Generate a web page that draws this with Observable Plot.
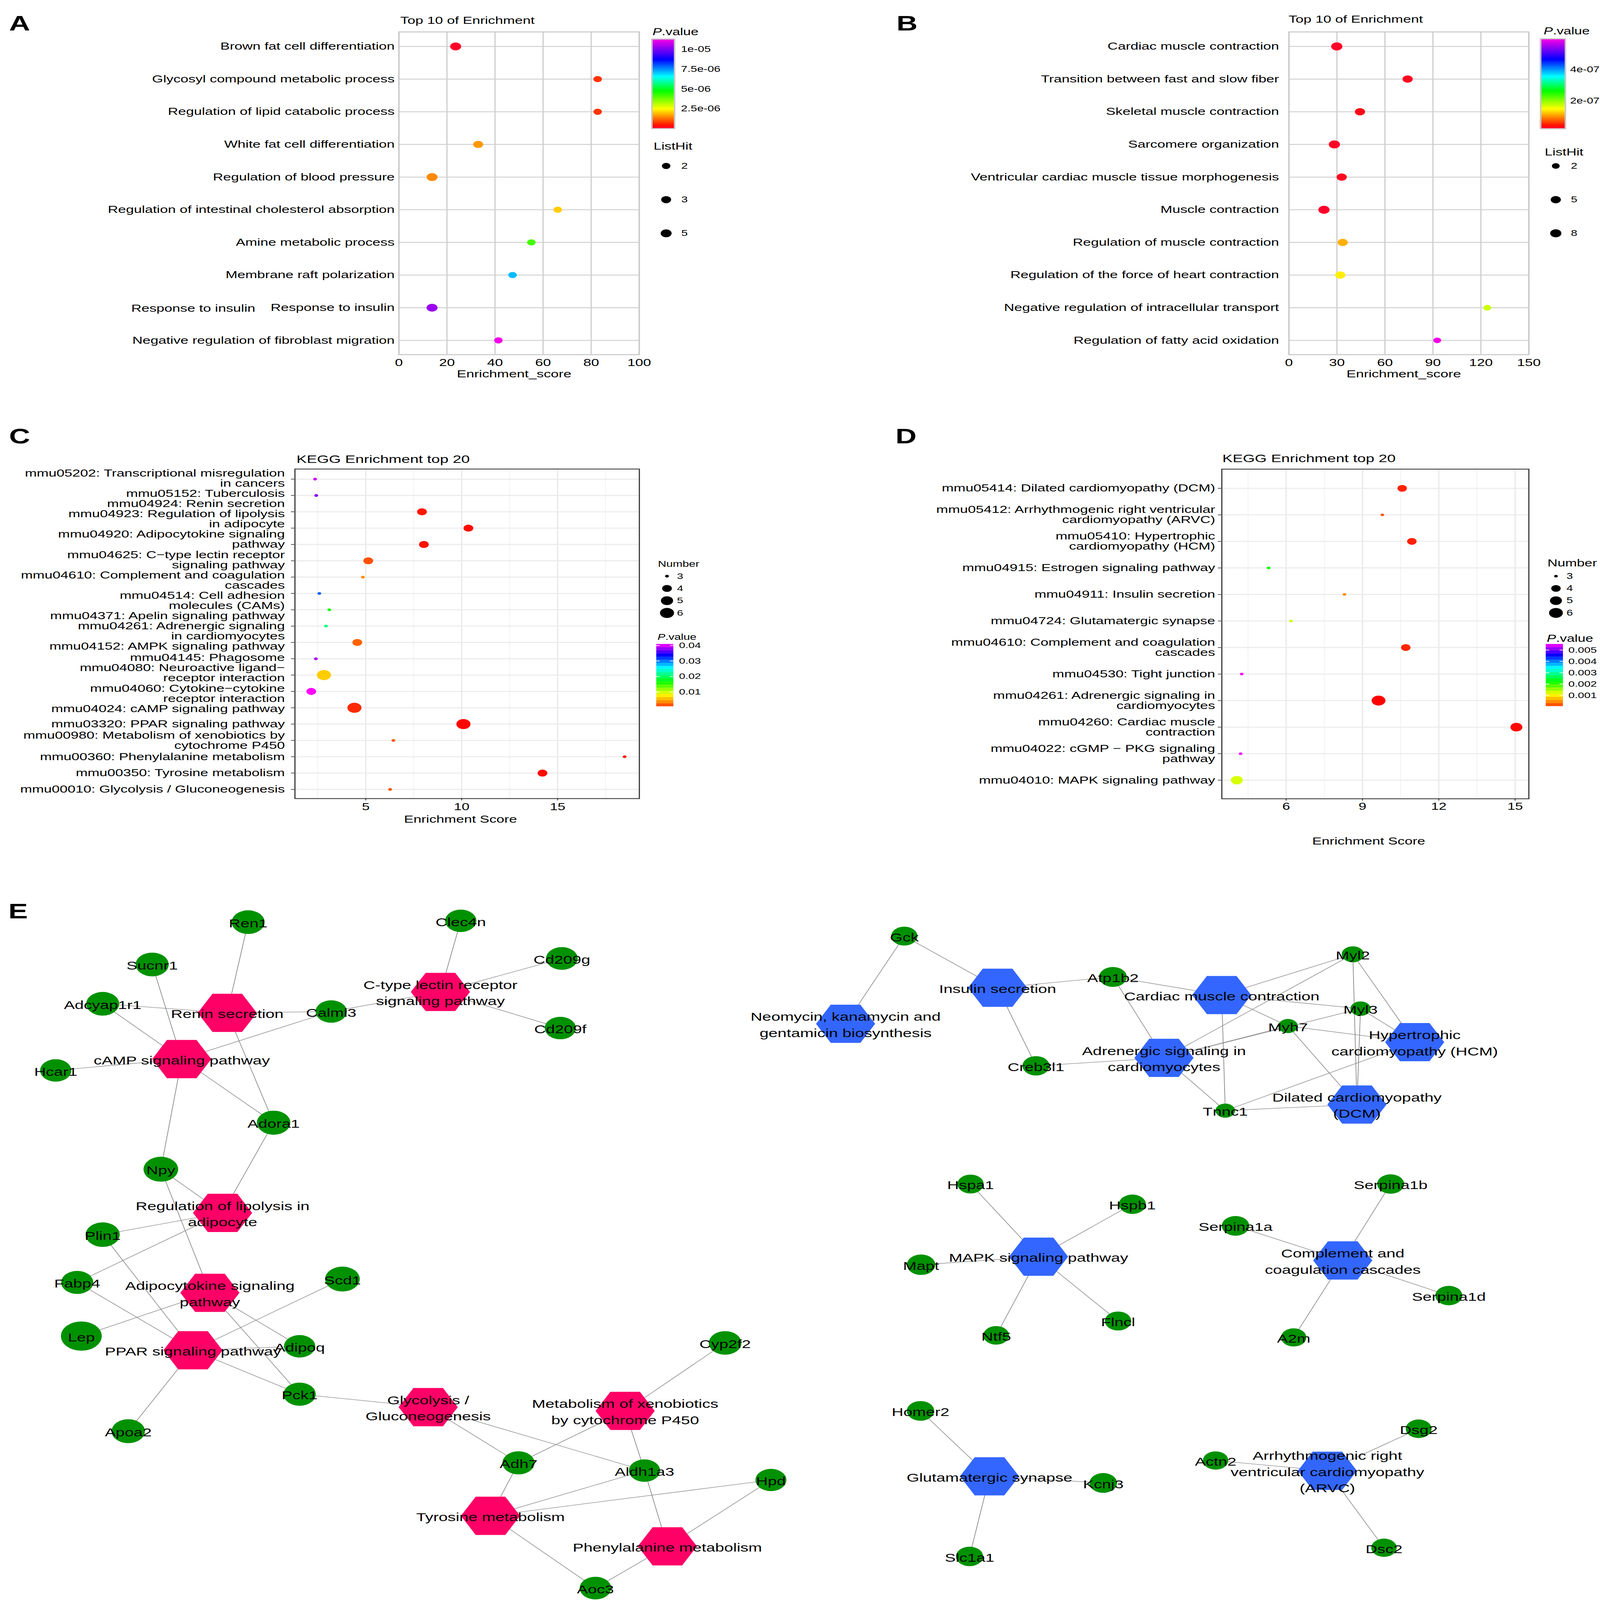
<!DOCTYPE html>
<html>
<head>
<meta charset="utf-8">
<script src="https://cdn.jsdelivr.net/npm/d3@7"></script>
<script src="https://cdn.jsdelivr.net/npm/@observablehq/plot@0.6"></script>
<style>
html, body { margin: 0; padding: 0; background: #ffffff; overflow: hidden; }
#fig { position: relative; background: #ffffff; overflow: hidden;
       font-family: 'Liberation Sans', Arial, Helvetica, sans-serif; }
#fig svg { position: absolute; overflow: visible; }
</style>
</head>
<body>
<div id="fig"></div>
<script>
// ---------------- DATA ----------------
// Panel A – GO top 10
const termsA = ["Brown fat cell differentiation","Glycosyl compound metabolic process","Regulation of lipid catabolic process","White fat cell differentiation","Regulation of blood pressure","Regulation of intestinal cholesterol absorption","Amine metabolic process","Membrane raft polarization","Response to insulin","Negative regulation of fibroblast migration"];
const scoreA = [23.6, 82.7, 82.7, 33.0, 13.8, 66.1, 55.1, 47.3, 13.8, 41.4];
const hitA   = [5, 2, 2, 3, 5, 2, 2, 2, 5, 2];
const pA     = [5.6e-8, 6.8e-7, 7.2e-7, 1.59e-6, 1.45e-6, 2.05e-6, 4.14e-6, 7.13e-6, 1.026e-5, 1.12e-5];

// Panel B – GO top 10
const termsB = ["Cardiac muscle contraction","Transition between fast and slow fiber","Skeletal muscle contraction","Sarcomere organization","Ventricular cardiac muscle tissue morphogenesis","Muscle contraction","Regulation of muscle contraction","Regulation of the force of heart contraction","Negative regulation of intracellular transport","Regulation of fatty acid oxidation"];
const scoreB = [29.9, 74.2, 44.4, 28.4, 33.0, 21.9, 33.6, 32.1, 124.0, 92.7];
const hitB   = [8, 5, 5, 8, 5, 8, 5, 5, 2, 2];
const pB     = [2.6e-8, 2.9e-8, 3.3e-8, 2.7e-8, 3.0e-8, 2.5e-8, 1.14e-7, 1.416e-7, 1.72e-7, 5.91e-7];

// Panel C – KEGG top 20
const termsC = ["mmu05202: Transcriptional misregulation\nin cancers","mmu05152: Tuberculosis","mmu04924: Renin secretion","mmu04923: Regulation of lipolysis\nin adipocyte","mmu04920: Adipocytokine signaling\npathway","mmu04625: C\u2212type lectin receptor\nsignaling pathway","mmu04610: Complement and coagulation\ncascades","mmu04514: Cell adhesion\nmolecules (CAMs)","mmu04371: Apelin signaling pathway","mmu04261: Adrenergic signaling\nin cardiomyocytes","mmu04152: AMPK signaling pathway","mmu04145: Phagosome","mmu04080: Neuroactive ligand\u2212\nreceptor interaction","mmu04060: Cytokine\u2212cytokine\nreceptor interaction","mmu04024: cAMP signaling pathway","mmu03320: PPAR signaling pathway","mmu00980: Metabolism of xenobiotics by\ncytochrome P450","mmu00360: Phenylalanine metabolism","mmu00350: Tyrosine metabolism","mmu00010: Glycolysis / Gluconeogenesis"];
const scoreC = [2.36, 2.42, 7.93, 10.35, 8.03, 5.13, 4.85, 2.58, 3.10, 2.93, 4.56, 2.40, 2.82, 2.16, 4.41, 10.09, 6.44, 18.49, 14.21, 6.27];
const numC   = [3, 3, 4, 4, 4, 4, 3, 3, 3, 3, 4, 3, 6, 4, 6, 6, 3, 3, 4, 3];
const pC     = [0.0392, 0.0373, 0.00065, 0.0005, 0.00058, 0.00139, 0.00336, 0.0302, 0.0165, 0.0212, 0.00167, 0.0384, 0.00598, 0.0406, 0.00091, 0.00044, 0.00151, 0.0007, 0.0005, 0.00145];

// Panel D – KEGG top 20
const termsD = ["mmu05414: Dilated cardiomyopathy (DCM)","mmu05412: Arrhythmogenic right ventricular\ncardiomyopathy (ARVC)","mmu05410: Hypertrophic\ncardiomyopathy (HCM)","mmu04915: Estrogen signaling pathway","mmu04911: Insulin secretion","mmu04724: Glutamatergic synapse","mmu04610: Complement and coagulation\ncascades","mmu04530: Tight junction","mmu04261: Adrenergic signaling in\ncardiomyocytes","mmu04260: Cardiac muscle\ncontraction","mmu04022: cGMP \u2212 PKG signaling\npathway","mmu04010: MAPK signaling pathway"];
const scoreD = [10.56, 9.78, 10.94, 5.31, 8.29, 6.19, 10.70, 4.25, 9.63, 15.05, 4.21, 4.06];
const numD   = [4, 3, 4, 3, 3, 3, 4, 3, 6, 5, 3, 5];
const pD     = [0.000058, 0.000146, 0.000055, 0.00226, 0.000385, 0.00128, 0.000064, 0.00545, 0.000003, 0.00001, 0.00544, 0.00122];

// tick labels
const xTicksA = [0, 20, 40, 60, 80, 100];
const xTicksB = [0, 30, 60, 90, 120, 150];
const xTicksC = [5, 10, 15];
const xTicksD = [6, 9, 12, 15];
const pTicksA = [2.5e-6, 5e-6, 7.5e-6, 1e-5];
const pTicksB = [2e-7, 4e-7];
const pTicksC = [0.01, 0.02, 0.03, 0.04];
const pTicksD = [0.001, 0.002, 0.003, 0.004, 0.005];
const keysA = [2, 3, 5];
const keysB = [2, 5, 8];
const keysC = [3, 4, 5, 6];
const keysD = [3, 4, 5, 6];

// Panel E – gene/pathway networks (layout coordinates, node weight)
const genesAdipose = [
 ["Ren1",174.0,903.0,23.2],["Clec4n",323.5,901.7,22.0],["Sucnr1",106.5,944.5,23.3],["Cd209g",394.6,938.6,22.3],
 ["Adcyap1r1",71.7,983.0,23.2],["Calml3",232.4,990.6,22.0],["Cd209f",393.5,1006.8,22.0],["Hcar1",38.7,1048.3,22.0],
 ["Adora1",191.9,1099.5,23.6],["Npy",112.6,1145.1,24.4],["Plin1",71.7,1209.2,24.0],["Fabp4",53.8,1256.0,22.6],
 ["Scd1",240.3,1252.7,24.4],["Lep",56.7,1308.6,28.7],["Adipoq",210.2,1318.6,22.0],["Apoa2",89.7,1401.8,23.5],
 ["Pck1",210.2,1365.5,22.7],["Cyp2f2",509.4,1315.3,23.0],["Adh7",364.1,1432.8,22.6],["Aldh1a3",452.7,1440.4,22.0],
 ["Hpd",541.6,1449.6,21.8],["Aoc3",418.2,1555.5,22.2]
];
const genesMuscle = [
 ["Gck",635.4,916.7,18.5],["Atp1b2",782.1,956.7,19.5],["Creb3l1",728.0,1043.8,19.0],["Myl2",950.8,934.5,15.7],
 ["Myl3",956.2,987.8,14.2],["Myh7",905.2,1004.8,13.8],["Tnnc1",861.1,1087.7,13.8],
 ["Hspa1",682.0,1159.6,18.5],["Hspb1",795.8,1179.4,19.0],["Mapt",647.2,1238.7,20.0],["Flncl",785.7,1293.8,18.6],["Ntf5",700.0,1307.9,18.2],
 ["Serpina1b",977.4,1159.6,19.0],["Serpina1a",868.3,1200.6,19.3],["Serpina1d",1018.3,1268.9,19.0],["A2m",909.2,1309.9,17.8],
 ["Homer2",646.8,1381.9,19.3],["Kcnj3",775.3,1452.5,19.4],["Slc1a1",681.3,1524.5,19.1],
 ["Dsg2",997.1,1399.4,18.2],["Actn2",854.3,1430.5,17.9],["Dsc2",972.7,1516.0,17.9]
];
const pathwaysAdipose = [
 ["renin","Renin secretion",159.3,991.9],
 ["ctype","C-type lectin receptor\nsignaling pathway",309.2,971.4],
 ["camp","cAMP signaling pathway",127.3,1037.2],
 ["lipo","Regulation of lipolysis in\nadipocyte",156.0,1187.9],
 ["adipo","Adipocytokine signaling\npathway",147.1,1266.2],
 ["ppar","PPAR signaling pathway",135.2,1322.5],
 ["glyco","Glycolysis /\nGluconeogenesis",300.6,1378.2],
 ["xeno","Metabolism of xenobiotics\nby cytochrome P450",439.1,1381.9],
 ["tyr","Tyrosine metabolism",344.4,1484.7],
 ["phe","Phenylalanine metabolism",468.8,1514.6]
];
const pathwaysMuscle = [
 ["neo","Neomycin, kanamycin and\ngentamicin biosynthesis",594.1,1002.6],
 ["ins","Insulin secretion",701.0,967.3],
 ["cmc","Cardiac muscle contraction",858.6,974.5],
 ["hcm","Hypertrophic\ncardiomyopathy (HCM)",994.3,1020.6],
 ["adr","Adrenergic signaling in\ncardiomyocytes",818.0,1036.0],
 ["dcm","Dilated cardiomyopathy\n(DCM)",953.7,1081.7],
 ["mapk","MAPK signaling pathway",729.8,1230.8],
 ["comp","Complement and\ncoagulation cascades",943.7,1234.5],
 ["glu","Glutamatergic synapse",695.3,1446.0],
 ["arvc","Arrhythmogenic right\nventricular cardiomyopathy\n(ARVC)",932.9,1440.6]
];
const edgesAdipose = [
 ["Ren1","renin"],["Adcyap1r1","renin"],["Calml3","renin"],["Adora1","renin"],
 ["Sucnr1","camp"],["Adcyap1r1","camp"],["Calml3","camp"],["Hcar1","camp"],["Adora1","camp"],["Npy","camp"],
 ["Calml3","ctype"],["Clec4n","ctype"],["Cd209g","ctype"],["Cd209f","ctype"],
 ["Adora1","lipo"],["Npy","lipo"],["Plin1","lipo"],["Fabp4","lipo"],
 ["Npy","adipo"],["Lep","adipo"],["Adipoq","adipo"],["Pck1","adipo"],
 ["Plin1","ppar"],["Fabp4","ppar"],["Scd1","ppar"],["Adipoq","ppar"],["Pck1","ppar"],["Apoa2","ppar"],
 ["Pck1","glyco"],["Adh7","glyco"],["Aldh1a3","glyco"],
 ["Cyp2f2","xeno"],["Adh7","xeno"],["Aldh1a3","xeno"],
 ["Adh7","tyr"],["Aldh1a3","tyr"],["Hpd","tyr"],["Aoc3","tyr"],
 ["Aldh1a3","phe"],["Hpd","phe"],["Aoc3","phe"]
];
const edgesMuscle = [
 ["Gck","neo"],["Gck","ins"],["Atp1b2","ins"],["Creb3l1","ins"],
 ["Atp1b2","cmc"],["Myl2","cmc"],["Myl3","cmc"],["Myh7","cmc"],["Tnnc1","cmc"],
 ["Atp1b2","adr"],["Creb3l1","adr"],["Myl2","adr"],["Myl3","adr"],["Myh7","adr"],["Tnnc1","adr"],
 ["Myl2","hcm"],["Myl3","hcm"],["Myh7","hcm"],["Tnnc1","hcm"],
 ["Myl2","dcm"],["Myl3","dcm"],["Myh7","dcm"],["Tnnc1","dcm"],
 ["Hspa1","mapk"],["Hspb1","mapk"],["Mapt","mapk"],["Flncl","mapk"],["Ntf5","mapk"],
 ["Serpina1b","comp"],["Serpina1a","comp"],["Serpina1d","comp"],["A2m","comp"],
 ["Homer2","glu"],["Kcnj3","glu"],["Slc1a1","glu"],
 ["Dsg2","arvc"],["Actn2","arvc"],["Dsc2","arvc"]
];

// ---------------- SCALES / STYLE ----------------
const UW = 1125.1, UH = 1567.7;  // drawing units of the whole figure
let SX = 5601 / UW, SY = 7804 / UH;
const FONT = "'Liberation Sans', Arial, Helvetica, sans-serif";
const fig = document.getElementById("fig");
function ramp(stops) {
  const s = d3.scaleLinear().domain(stops.map(d => d[0])).range(stops.map(d => d[1]))
    .interpolate(d3.interpolateRgb).clamp(true);
  return t => s(t);
}
const rampAB = ramp([[0,"#ff0030"],[0.035,"#ff1000"],[0.22,"#ffff00"],[0.42,"#00ff00"],[0.58,"#00ffff"],[0.77,"#0000ff"],[1,"#ff00e6"]]);
const rampCD = ramp([[0,"#ff0000"],[0.03,"#ff6000"],[0.19,"#ffff00"],[0.40,"#00ff00"],[0.62,"#00ffff"],[0.82,"#0000ff"],[1,"#ff00ff"]]);
const colorA = {type: "linear", domain: [0, 1.13e-5], interpolate: rampAB};
const colorB = {type: "linear", domain: [2.28e-8, 5.97e-7], interpolate: rampAB};
const colorC = {type: "linear", domain: [0.00038, 0.04066], interpolate: rampCD};
const colorD = {type: "linear", domain: [0, 0.0055], interpolate: rampCD};
const rA = {type: "sqrt", domain: [0, 3], range: [3.0, 3.85]};
const rB = {type: "sqrt", domain: [0, 6], range: [2.75, 3.93]};
const rC = {type: "sqrt", domain: [0, 3], range: [1.35, 4.95]};
const rD = {type: "sqrt", domain: [0, 3], range: [1.25, 4.85]};
const sci = v => { const [m, e] = v.toExponential().split("e"); const n = +e; return m + "e" + (n < 0 ? "-" : "+") + String(Math.abs(n)).padStart(2, "0"); };

function baseStyle() {
  return {background: "none", overflow: "visible", fontFamily: FONT, fontSize: "10px", color: "black", maxWidth: "none"};
}
function place(svg, left, top) {
  const w = +svg.getAttribute("width"), h = +svg.getAttribute("height");
  svg.setAttribute("preserveAspectRatio", "none");
  svg.setAttribute("width", w * SX);
  svg.setAttribute("height", h * SY);
  svg.style.position = "absolute";
  svg.style.left = (left * SX) + "px";
  svg.style.top = (top * SY) + "px";
  svg.style.width = (w * SX) + "px";
  svg.style.height = (h * SY) + "px";
  svg.style.overflow = "visible";
  svg.style.background = "none";
  svg.style.maxWidth = "none";
  fig.appendChild(svg);
}
function texter(L, T, ml, mt) {
  return (s, x, y, o = {}) => Plot.text([s], {text: d => d, frameAnchor: "top-left", dx: x - L - ml, dy: y - T - mt,
    lineAnchor: "middle", textAnchor: "start", fill: "black", fontSize: 10, ...o});
}
// pack multi-line tick labels so that their lines do not collide
function dodgeLabels(terms, yScale, lh) {
  const items = terms.map(t => ({t, c: yScale.apply(t), h: t.split("\n").length * lh}));
  const clusters = [];
  for (const it of items) {
    clusters.push({items: [it], h: it.h, sum: it.c - it.h / 2, n: 1});
    while (clusters.length > 1) {
      const b = clusters[clusters.length - 1], a = clusters[clusters.length - 2];
      if (a.sum / a.n + a.h > b.sum / b.n) {
        a.sum += b.sum - b.n * a.h; a.n += b.n; a.items.push(...b.items); a.h += b.h; clusters.pop();
      } else break;
    }
  }
  for (const cl of clusters) {
    let top = cl.sum / cl.n;
    for (const it of cl.items) { it.dy = top + it.h / 2 - it.c; top += it.h; }
  }
  return items;
}

// ---------------- DOT PANELS ----------------
function dotPanel(o) {
  const data = o.terms.map((t, i) => ({term: t, x: o.score[i], n: o.size[i], p: o.p[i]}));
  const T = texter(o.L, o.T, o.ml, o.mt);
  const bw = o.theme === "bw";
  const tick = bw ? 2.3 : 0;
  const yOpts = {type: "point", domain: o.terms, padding: o.yPadding};
  const marks = [];
  if (bw) {
    marks.push(Plot.gridX(o.minor, {stroke: "#f2f2f2", strokeOpacity: 1, strokeWidth: 0.55}));
    marks.push(Plot.gridX(o.xTicks, {stroke: "#ebebeb", strokeOpacity: 1, strokeWidth: 1}));
    marks.push(Plot.gridY({stroke: "#ebebeb", strokeOpacity: 1, strokeWidth: 1}));
  } else {
    marks.push(Plot.gridX(o.grid, {stroke: "#d0d0d0", strokeOpacity: 1, strokeWidth: 0.9}));
    marks.push(Plot.gridY({stroke: "#d0d0d0", strokeOpacity: 1, strokeWidth: 0.9}));
  }
  marks.push(Plot.dot(data, {x: "x", y: "term", r: d => d.n - o.nMin + 1e-9, fill: "p"}));
  marks.push(Plot.frame({stroke: bw ? "#333333" : "#c8c8c8", strokeWidth: bw ? 0.8 : 1}));
  marks.push(Plot.axisX({ticks: o.xTicks, tickSize: tick, tickPadding: o.xPad, fontSize: o.xFont,
    stroke: "#333333", strokeWidth: 0.6, fill: "black", label: null}));
  if (o.dodge) {
    const yScale = Plot.scale({y: {...yOpts, range: [o.mt, o.H - o.mb]}});
    marks.push(Plot.axisY({tickSize: tick, tickFormat: () => "", stroke: "#333333", strokeWidth: 0.6, label: null}));
    for (const it of dodgeLabels(o.terms, yScale, 10)) {
      marks.push(Plot.text([it.t], {y: d => d, text: d => d, frameAnchor: "left", dx: -(tick + o.yPad), dy: it.dy,
        textAnchor: "end", lineAnchor: "middle", lineHeight: 1, fontSize: 10, fill: "black"}));
    }
  } else {
    marks.push(Plot.axisY({tickSize: tick, tickPadding: o.yPad, fontSize: 10, lineHeight: 1,
      stroke: "#333333", strokeWidth: 0.6, fill: "black", label: null}));
  }
  marks.push(...o.extra(T));
  const svg = Plot.plot({
    width: o.W, height: o.H, marginLeft: o.ml, marginRight: o.mr, marginTop: o.mt, marginBottom: o.mb,
    x: {domain: o.xDomain}, y: yOpts,
    color: o.color, r: o.r, style: baseStyle(), marks
  });
  place(svg, o.L, o.T);
}

function colorBar(o) {
  const [lo, hi] = o.domain;
  const n = o.bins, step = (hi - lo) / n;
  const bins = d3.range(n).map(i => ({y1: Math.max(lo, lo + step * i - step * o.overlap), y2: lo + step * (i + 1), v: lo + step * (i + 0.5)}));
  const T = texter(o.L, o.T, o.ml, o.mt);
  const marks = [Plot.rect(bins, {y1: "y1", y2: "y2", fill: "v"})];
  if (o.frame) marks.push(Plot.frame({stroke: "#c8c8c8", strokeWidth: 1}));
  if (o.whiteTicks) {
    marks.push(Plot.ruleY(o.ticks, {y: d => d, x1: 0, x2: 0.2, stroke: "white", strokeWidth: 0.6}));
    marks.push(Plot.ruleY(o.ticks, {y: d => d, x1: 0.8, x2: 1, stroke: "white", strokeWidth: 0.6}));
  }
  marks.push(Plot.axisY(o.ticks, {anchor: "right", tickSize: 0, tickPadding: o.pad, fontSize: o.font, tickFormat: o.fmt, fill: "black", label: null}));
  marks.push(T("P", o.tx, o.ty, {fontSize: o.ts, fontStyle: "italic"}));
  marks.push(T(".value", o.tx + 0.667 * o.ts, o.ty, {fontSize: o.ts}));
  const svg = Plot.plot({
    width: o.W, height: o.H, marginLeft: o.ml, marginRight: o.mr, marginTop: o.mt, marginBottom: 0,
    x: {domain: [0, 1], axis: null}, y: {domain: o.domain}, color: o.color, style: baseStyle(), marks
  });
  place(svg, o.L, o.T);
}

function sizeKey(o) {
  const T = texter(o.L, o.T, o.ml, o.mt);
  const svg = Plot.plot({
    width: o.W, height: o.H, marginLeft: o.ml, marginRight: o.mr, marginTop: o.mt, marginBottom: o.mb,
    y: {type: "point", domain: o.keys, padding: 0, axis: null}, r: o.r, style: baseStyle(),
    marks: [
      Plot.dot(o.keys, {y: d => d, r: d => d - o.nMin + 1e-9, fill: "black", frameAnchor: "left"}),
      Plot.text(o.keys, {y: d => d, text: d => String(d), frameAnchor: "left", dx: o.dx, textAnchor: "start", fontSize: o.font, fill: "black"}),
      T(o.title, o.tx, o.ty, {fontSize: o.ts})
    ]
  });
  place(svg, o.L, o.T);
}

const bold = {fontSize: 20.5, fontWeight: "bold"};

function network() {
  const L = 0, T0 = 860, W = 1125, H = 708;
  const genes = genesAdipose.concat(genesMuscle).map(g => ({id: g[0], label: g[0], x: g[1], y: g[2], w: g[3]}));
  const paths = pathwaysAdipose.map(p => ({id: p[0], label: p[1], x: p[2], y: p[3], group: "adipose"}))
    .concat(pathwaysMuscle.map(p => ({id: p[0], label: p[1], x: p[2], y: p[3], group: "muscle"})));
  const pos = new Map();
  genes.concat(paths).forEach(d => pos.set(d.id, d));
  const edges = edgesAdipose.concat(edgesMuscle).map(([a, b]) => ({a: pos.get(a), b: pos.get(b)}));
  const hexFlat = {
    draw(ctx, size) {
      const a = Math.sqrt(size / Math.PI), b = a * 0.9;
      ctx.moveTo(a, 0); ctx.lineTo(a / 2, b); ctx.lineTo(-a / 2, b);
      ctx.lineTo(-a, 0); ctx.lineTo(-a / 2, -b); ctx.lineTo(a / 2, -b); ctx.closePath();
    }
  };
  const Tx = texter(L, T0, 0, 0);
  const svg = Plot.plot({
    width: W, height: H, margin: 0,
    x: {domain: [0, 1125], axis: null},
    y: {domain: [860, 1568], reverse: true, axis: null},
    r: {type: "linear", domain: [0, 30], range: [0, 15]},
    color: {type: "ordinal", domain: ["adipose", "muscle"], range: ["#ff0066", "#3366ff"]},
    style: baseStyle(),
    marks: [
      Plot.link(edges, {x1: d => d.a.x, y1: d => d.a.y, x2: d => d.b.x, y2: d => d.b.y, stroke: "#8a8a8a", strokeWidth: 0.5}),
      Plot.dot(genes, {x: "x", y: "y", r: "w", fill: "#009100"}),
      Plot.dot(paths, {x: "x", y: "y", r: 20.8, symbol: hexFlat, fill: "group"}),
      Plot.text(genes.concat(paths), {x: "x", y: "y", text: "label", fontSize: 11.4, lineHeight: 1.39, fill: "black"}),
      Tx("E", 5.4, 892.6, bold)
    ]
  });
  place(svg, L, T0);
}

function render() {
  const vw = window.innerWidth || document.documentElement.clientWidth || 5601;
  const vh = window.innerHeight || document.documentElement.clientHeight || 7804;
  SX = vw / UW; SY = vh / UH;
  fig.innerHTML = "";
  fig.style.width = vw + "px";
  fig.style.height = vh + "px";

  // Panel A
  dotPanel({L: 0, T: 0, W: 452, H: 372, ml: 280, mr: 3, mt: 30.8, mb: 25,
    terms: termsA, score: scoreA, size: hitA, p: pA, nMin: 2, xDomain: [0, 100], xTicks: xTicksA, grid: [20, 40, 60, 80],
    yPadding: 0.44, theme: "grey", xPad: 4.1, yPad: 3, xFont: 10, color: colorA, r: rA,
    extra: T => [
      T("A", 5.9, 22.85, bold),
      T("Top 10 of Enrichment", 281, 19.5),
      T("Enrichment_score", 361, 366, {textAnchor: "middle"}),
      Plot.text(["Response to insulin"], {y: d => d, text: d => d, frameAnchor: "left", dx: 179 - 280, dy: 0.6, textAnchor: "end", fontSize: 10, fill: "black"})
    ]});
  colorBar({L: 450, T: 24, W: 60, H: 101.4, ml: 8, mr: 36, mt: 13.7, domain: colorA.domain, color: colorA,
    ticks: pTicksA, fmt: sci, pad: 4.4, font: 8.2, bins: 160, overlap: 0.6, frame: true, whiteTicks: false, tx: 458.4, ty: 30.8, ts: 9.7});
  sizeKey({L: 450, T: 135, W: 50, H: 100, ml: 18, mr: 10, mt: 26.4, mb: 7, keys: keysA, nMin: 2, r: rA,
    title: "ListHit", tx: 459.2, ty: 143, ts: 9.8, dx: 10.6, font: 8.2});

  // Panel B
  dotPanel({L: 560, T: 0, W: 517.5, H: 372, ml: 345.8, mr: 3, mt: 30.8, mb: 25,
    terms: termsB, score: scoreB, size: hitB, p: pB, nMin: 2, xDomain: [0, 150], xTicks: xTicksB, grid: [30, 60, 90, 120],
    yPadding: 0.44, theme: "grey", xPad: 3.9, yPad: 7, xFont: 10, color: colorB, r: rB,
    extra: T => [
      T("B", 629.8, 22.85, bold),
      T("Top 10 of Enrichment", 905.5, 18.5),
      T("Enrichment_score", 986.5, 366.2, {textAnchor: "middle"})
    ]});
  colorBar({L: 1075, T: 24, W: 48, H: 101.6, ml: 7.8, mr: 22.8, mt: 13.4, domain: colorB.domain, color: colorB,
    ticks: pTicksB, fmt: sci, pad: 3.3, font: 8.1, bins: 160, overlap: 0.6, frame: true, whiteTicks: false, tx: 1084.9, ty: 30, ts: 9.7});
  sizeKey({L: 1075, T: 135, W: 45, H: 100, ml: 18.4, mr: 5, mt: 26.4, mb: 7, keys: keysB, nMin: 2, r: rB,
    title: "ListHit", tx: 1085.6, ty: 148.4, ts: 9.8, dx: 10.6, font: 8.1});

  // Panel C
  dotPanel({L: 0, T: 400, W: 452, H: 420, ml: 206.9, mr: 2.9, mt: 59.1, mb: 38,
    terms: termsC, score: scoreC, size: numC, p: pC, nMin: 3, xDomain: [1.31, 19.26], xTicks: xTicksC, minor: [2.5, 7.5, 12.5, 17.5],
    yPadding: 0.58, theme: "bw", xPad: 1.95, yPad: 4.8, xFont: 9.8, color: colorC, r: rC, dodge: true,
    extra: T => [
      T("C", 5.9, 427.3, bold),
      T("KEGG Enrichment top 20", 208, 449.5, {fontSize: 10.8}),
      T("Enrichment Score", 323.3, 802.4, {textAnchor: "middle"})
    ]});
  sizeKey({L: 452, T: 540, W: 40, H: 70, ml: 16.4, mr: 10, mt: 23.6, mb: 10, keys: keysC, nMin: 3, r: rC,
    title: "Number", tx: 462, ty: 552, ts: 8.2, dx: 7, font: 7.9});
  colorBar({L: 455, T: 615, W: 50, H: 77, ml: 6.6, mr: 31.4, mt: 15.9, domain: colorC.domain, color: colorC,
    ticks: pTicksC, fmt: d3.format(".2f"), pad: 3.5, font: 7.9, bins: 20, overlap: 0.05, frame: false, whiteTicks: true, tx: 462, ty: 623.9, ts: 8.2});

  // Panel D
  dotPanel({L: 560, T: 400, W: 517.5, H: 440, ml: 298.6, mr: 3, mt: 59.2, mb: 57.8,
    terms: termsD, score: scoreD, size: numD, p: pD, nMin: 3, xDomain: [3.47, 15.54], xTicks: xTicksD, minor: [4.5, 7.5, 10.5, 13.5],
    yPadding: 0.58, theme: "bw", xPad: 1.55, yPad: 2.4, xFont: 9.8, color: colorD, r: rD, dodge: true,
    extra: T => [
      T("D", 629.1, 427.5, bold),
      T("KEGG Enrichment top 20", 859, 448.7, {fontSize: 10.8}),
      T("Enrichment Score", 961.9, 823.7, {textAnchor: "middle"})
    ]});
  sizeKey({L: 1078, T: 540, W: 40, H: 70, ml: 15.5, mr: 5, mt: 23.7, mb: 9.9, keys: keysD, nMin: 3, r: rD,
    title: "Number", tx: 1087.5, ty: 551.3, ts: 9.8, dx: 7.4, font: 8.1});
  colorBar({L: 1080, T: 615, W: 44, H: 76.8, ml: 6.9, mr: 25, mt: 15.9, domain: colorD.domain, color: colorD,
    ticks: pTicksD, fmt: d3.format(".3f"), pad: 3.3, font: 8, bins: 20, overlap: 0.05, frame: false, whiteTicks: true, tx: 1087.1, ty: 625.1, ts: 9.8});

  // Panel E
  network();
}

render();
let lastSize = window.innerWidth + "x" + window.innerHeight;
window.addEventListener("resize", () => {
  const s = window.innerWidth + "x" + window.innerHeight;
  if (s !== lastSize) { lastSize = s; render(); }
});
</script>
</body>
</html>
